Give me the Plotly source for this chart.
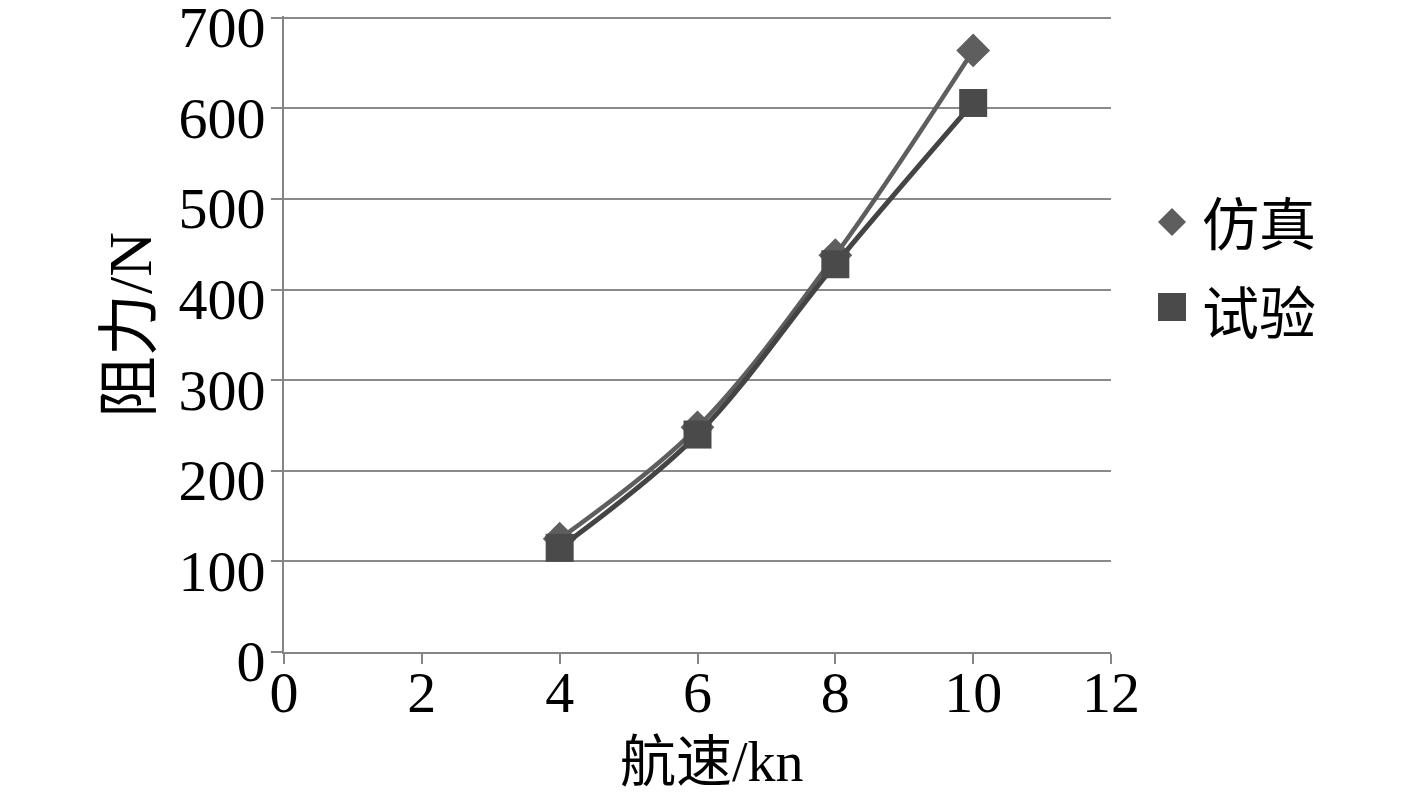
import plotly.graph_objects as go

speed = [4, 6, 8, 10]
sim_resistance = [125, 248, 438, 664]
test_resistance = [115, 240, 428, 606]

series_names = ["仿真", "试验"]
x_ticks = [0, 2, 4, 6, 8, 10, 12]
y_ticks = [0, 100, 200, 300, 400, 500, 600, 700]

# page body has an 8px margin, so compensate margins
L, T = 276, 8
PW, PH = 827, 636


def paper(sx, sy):
    """screen pixel -> paper coords"""
    return (sx - 8 - L) / PW, (T + PH - (sy - 8)) / PH


serif = "Liberation Serif, Times New Roman, Noto Sans CJK SC, serif"
sim_color = "#5e5e5e"
test_color = "#444444"

fig = go.Figure()
fig.add_trace(go.Scatter(
    x=speed, y=sim_resistance, name=series_names[0], showlegend=False,
    mode="lines+markers", line=dict(color=sim_color, width=4.5, shape="spline"),
    marker=dict(symbol="diamond", size=26, color=sim_color),
))
fig.add_trace(go.Scatter(
    x=speed, y=test_resistance, name=series_names[1], showlegend=False,
    mode="lines+markers", line=dict(color=test_color, width=5, shape="spline"),
    marker=dict(symbol="square", size=28, color="#4a4a4a"),
))

# custom legend (plotly caps legend marker size)
dx, dy = paper(1172, 222)
sx, sy = paper(1172, 307)
fig.add_shape(type="path", xref="paper", yref="paper", xsizemode="pixel", ysizemode="pixel",
              xanchor=dx, yanchor=dy, path="M -14 0 L 0 14 L 14 0 L 0 -14 Z",
              fillcolor=sim_color, line=dict(width=0))
fig.add_shape(type="rect", xref="paper", yref="paper", xsizemode="pixel", ysizemode="pixel",
              xanchor=sx, yanchor=sy, x0=-14, x1=14, y0=-14, y1=14,
              fillcolor="#4a4a4a", line=dict(width=0))
for name, (tx, ty) in zip(series_names, [paper(1200, 220), paper(1200, 309)]):
    fig.add_annotation(text=name, x=tx, y=ty, xref="paper", yref="paper",
                       xanchor="left", yanchor="middle", showarrow=False,
                       font=dict(size=57, family="Noto Sans CJK SC, serif", color="black"))

# axis titles
ax, ay = paper(712, 762)
fig.add_annotation(text="航速/kn", x=ax, y=ay, xref="paper", yref="paper",
                   xanchor="center", yanchor="middle", showarrow=False,
                   font=dict(size=56, family=serif, color="black"))
yx, yy = paper(130, 325)
fig.add_annotation(text="阻力/N", x=yx, y=yy, xref="paper", yref="paper", textangle=-90,
                   xanchor="center", yanchor="middle", showarrow=False,
                   font=dict(size=62, family=serif, color="black"))

fig.update_layout(
    width=1417, height=794,
    margin=dict(l=L, r=1417 - L - PW, t=T, b=794 - T - PH, autoexpand=False),
    paper_bgcolor="white", plot_bgcolor="white",
    font=dict(family=serif, size=52, color="black"),
    showlegend=False,
)

fig.update_xaxes(
    range=[0, 12], tickvals=x_ticks, ticktext=[str(v) for v in x_ticks],
    showgrid=False, zeroline=False,
    showline=True, linecolor="#858585", linewidth=2,
    ticks="outside", ticklen=10, tickwidth=2, tickcolor="#858585",
    tickfont=dict(size=58, family=serif), ticklabelstandoff=-22,
    ticklabeloverflow="allow",
)
fig.update_yaxes(
    range=[0, 702], tickvals=y_ticks, ticktext=[str(v) for v in y_ticks],
    showgrid=True, gridcolor="#8a8a8a", gridwidth=2, zeroline=False,
    showline=True, linecolor="#858585", linewidth=2,
    ticks="outside", ticklen=11, tickwidth=2, tickcolor="#858585",
    tickfont=dict(size=58, family=serif), ticklabelshift=9, ticklabelstandoff=-6,
    ticklabeloverflow="allow",
)

fig.write_html("out.html")
